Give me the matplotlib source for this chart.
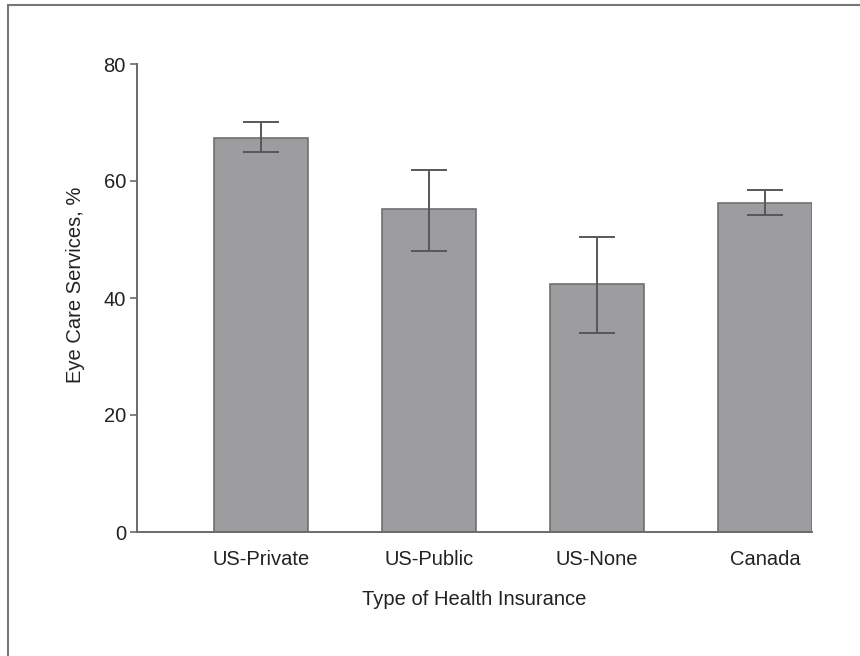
import matplotlib
matplotlib.use("Agg")
import matplotlib.pyplot as plt
from matplotlib.patches import Rectangle

plt.rcParams['font.family'] = ['Liberation Sans', 'DejaVu Sans']

groups = ["US-Private", "US-Public", "US-None", "Canada"]
values = [67.3, 55.2, 42.4, 56.3]
ci_low = [65.0, 48.0, 34.1, 54.2]
ci_high = [70.0, 61.8, 50.5, 58.5]
yticks = [0, 20, 40, 60, 80]

err_lo = [v - l for v, l in zip(values, ci_low)]
err_hi = [h - v for v, h in zip(values, ci_high)]

fig = plt.figure(figsize=(8.6, 6.56), dpi=100)
ax = fig.add_axes([137 / 860, 1 - 532 / 656, 675 / 860, 468 / 656])

x = list(range(len(groups)))
ax.bar(x, values, width=0.56, color="#9d9d9f", edgecolor="#707072", linewidth=1.2,
       yerr=[err_lo, err_hi], capsize=13,
       error_kw=dict(ecolor="#58585a", elinewidth=1.4, capthick=1.4))

ax.set_xlim(-0.74, 3.28)
ax.set_ylim(0, 80)
ax.set_yticks(yticks)
ax.set_xticks(x)
ax.set_xticklabels(groups)

for s in ["top", "right"]:
    ax.spines[s].set_visible(False)
for s in ["left", "bottom"]:
    ax.spines[s].set_color("#6a6a6a")
    ax.spines[s].set_linewidth(1.4)

ax.tick_params(axis="y", direction="out", length=5, width=1.2, color="#6a6a6a",
               labelsize=14.5, labelcolor="#222222", pad=3)
ax.tick_params(axis="x", length=0, labelsize=14.5, labelcolor="#222222", pad=13)

ax.set_xlabel("Type of Health Insurance", fontsize=14.5, color="#222222", labelpad=15)
ax.set_ylabel("Eye Care Services, %", fontsize=14.5, color="#222222")
ax.yaxis.set_label_coords(-0.077, 0.528)

# outer frame of the figure
fig.patches.append(Rectangle((8 / 860, -0.05), 1.1, 1.05 - 5 / 656,
                             transform=fig.transFigure, fill=False,
                             edgecolor="#777777", linewidth=1.5))

fig.savefig("out.png", dpi=100)
